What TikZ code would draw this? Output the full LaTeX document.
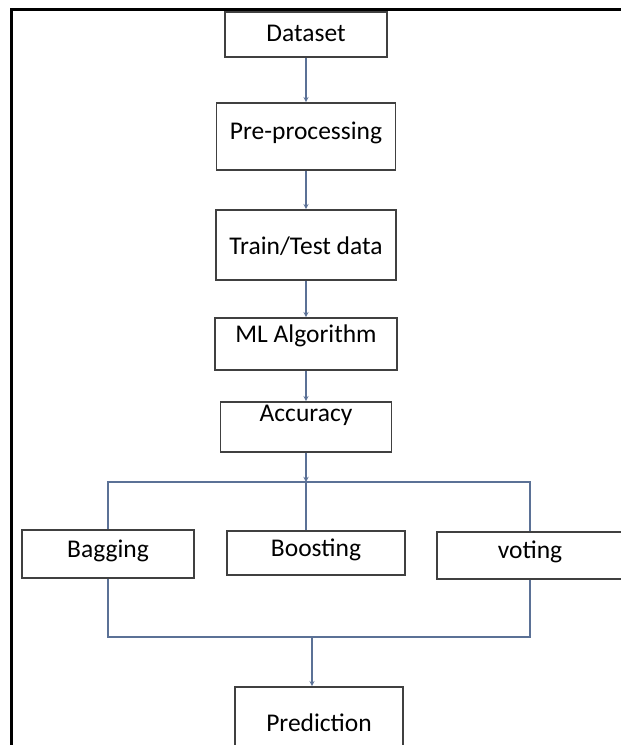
\documentclass[tikz,border=0pt]{standalone}
\usepackage{fontspec}
\setmainfont{Carlito}
\usetikzlibrary{arrows,positioning}

\definecolor{boxline}{HTML}{404040}
\definecolor{flowline}{HTML}{5B7196}

\begin{document}
\begin{tikzpicture}[x=1pt,y=-1pt,>=stealth,
    box/.style={draw=boxline,line width=1.6pt,inner sep=0pt,text height=18pt,font=\fontsize{25.5}{30}\selectfont},
    flow/.style={draw=flowline,line width=1.3pt}]
    \useasboundingbox (0,0) rectangle (621,745);
    \clip (0,0) rectangle (621,745);
    % page frame
    \draw[line width=3pt] (621,9) -- (11,9) -- (11,745);
    % main chain
    \node[box,minimum width=162,minimum height=45,text depth=4pt] (data) at (306,34.5) {Dataset};
    \node[box,minimum width=179,minimum height=67,text depth=12pt] (pre) at (306,136.5) {Pre-processing};
    \node[box,minimum width=180,minimum height=70,text depth=0pt] (tt) at (306,245) {Train/Test data};
    \node[box,minimum width=182,minimum height=52,text depth=22pt] (ml) at (306,344) {ML Algorithm};
    \node[box,minimum width=171,minimum height=50,text depth=29pt] (acc) at (306,427) {Accuracy};
    % ensemble methods
    \node[box,minimum width=172,minimum height=48,text depth=12pt] (bag) at (108,554) {Bagging};
    \node[box,minimum width=178,minimum height=44,text depth=12pt] (boost) at (316,553) {Boosting};
    \node[box,minimum width=186,minimum height=47,text depth=12pt] (vote) at (530,555.5) {voting};
    \node[box,minimum width=168,minimum height=78,text depth=8pt] (pred) at (319,726) {Prediction};
    \coordinate (split) at (306,482);
    \coordinate (merge) at (312,637);
    \draw[flow,->] (data) -- (pre);
    \draw[flow,->] (pre) -- (tt);
    \draw[flow,->] (tt) -- (ml);
    \draw[flow,->] (ml) -- (acc);
    \draw[flow,->] (acc) -- (split);
    \draw[flow] (split) -- (split |- boost.north);
    \draw[flow] (bag.north) -- (bag.north |- split) -- (split -| vote.north) -- (vote.north);
    \draw[flow] (bag.south) -- (bag.south |- merge) -- (merge -| vote.south) -- (vote.south);
    \draw[flow,->] (merge) -- (merge |- pred.north);
\end{tikzpicture}
\end{document}
